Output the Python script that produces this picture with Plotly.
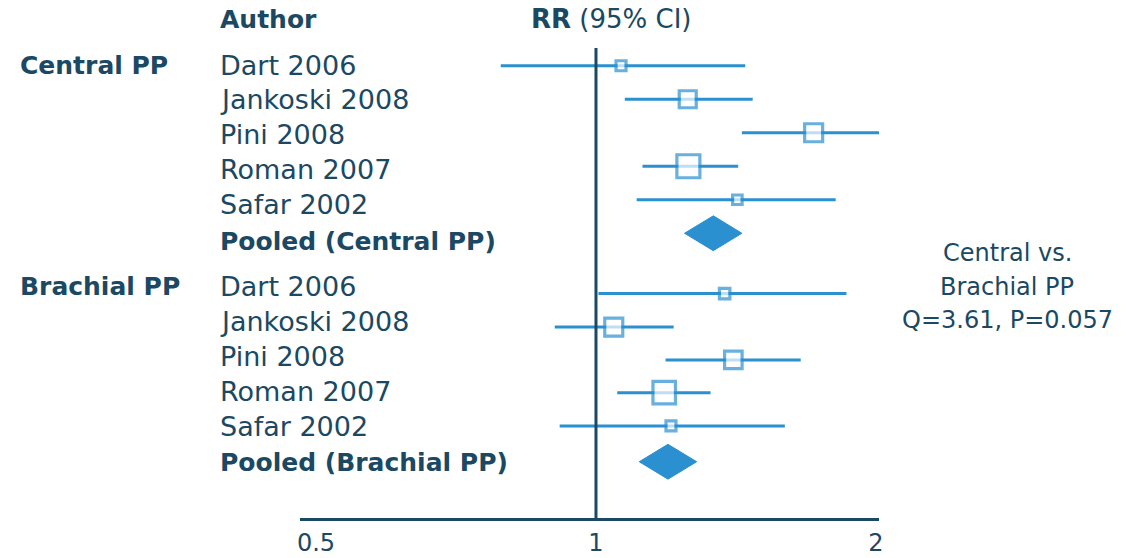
import math
import plotly.graph_objects as go

# study labels (same order in both groups)
authors = ["Dart 2006", "Jankoski 2008", "Pini 2008", "Roman 2007", "Safar 2002"]

# central pulse pressure: RR with 95% CI, and box weight
central_rr = [1.064, 1.255, 1.714, 1.257, 1.419]
central_lo = [0.790, 1.074, 1.435, 1.122, 1.106]
central_hi = [1.447, 1.474, 2.030, 1.422, 1.810]
central_wt = [10, 17, 18, 23, 9.5]
central_pooled = [1.337, 1.245, 1.435]  # rr, lo, hi

# brachial pulse pressure
brachial_rr = [1.375, 1.045, 1.405, 1.184, 1.204]
brachial_lo = [1.006, 0.903, 1.188, 1.054, 0.914]
brachial_hi = [1.859, 1.212, 1.660, 1.328, 1.596]
brachial_wt = [10.5, 18, 17.5, 22.5, 10]
brachial_pooled = [1.195, 1.113, 1.283]

x_ticks = [0.5, 1, 2]
x_ticktext = ["0.5", "1", "2"]
het_lines = ["Central vs.", "Brachial PP", "Q=3.61, P=0.057"]

W, H = 1135, 558
BLUE = "#2a90d0"
DARK = "#1b4862"
FONT = "DejaVu Sans"

# row layout (row units along the hidden y axis)
central_rows = [0, 1, 2, 3, 4]
central_pool_row = 5
brachial_rows = [6.8, 7.8, 8.78, 9.76, 10.75]
brachial_pool_row = 11.82
central_label_rows = [0.0, 1.02, 2.06, 3.1, 4.14]
central_pool_label_row = 5.24
brachial_label_rows = [6.6, 7.64, 8.68, 9.72, 10.76]
brachial_pool_label_row = 11.84
het_rows_px = [253, 287, 320]
DIAMOND_HALF = 0.52


def py(p):
    """pixel row -> paper y"""
    return 1 - p / H


fig = go.Figure()


def add_group(rr, lo, hi, wt, rows, pooled, pool_row):
    xs, ys = [], []
    for a, b, r in zip(lo, hi, rows):
        xs += [a, b, None]
        ys += [r, r, None]
    fig.add_trace(go.Scatter(
        x=xs, y=ys, mode="lines",
        line=dict(color=BLUE, width=3),
        hoverinfo="skip", showlegend=False
    ))
    fig.add_trace(go.Scatter(
        x=rr, y=rows, mode="markers",
        marker=dict(symbol="square", size=wt, color="white",
                    line=dict(color=BLUE, width=3.2)),
        showlegend=False, cliponaxis=False
    ))
    p_rr, p_lo, p_hi = pooled
    fig.add_trace(go.Scatter(
        x=[p_lo, p_rr, p_hi, p_rr, p_lo],
        y=[pool_row, pool_row - DIAMOND_HALF, pool_row,
           pool_row + DIAMOND_HALF, pool_row],
        mode="lines", fill="toself", fillcolor=BLUE,
        line=dict(color=BLUE, width=1),
        showlegend=False
    ))


add_group(central_rr, central_lo, central_hi, central_wt,
          central_rows, central_pooled, central_pool_row)
add_group(brachial_rr, brachial_lo, brachial_hi, brachial_wt,
          brachial_rows, brachial_pooled, brachial_pool_row)

annotations = []


def label(text, x_px, y, yref="y", size=27, anchor="left"):
    annotations.append(dict(
        text=text, x=x_px / W, xref="paper", y=y, yref=yref,
        xanchor=anchor, yanchor="middle", showarrow=False,
        font=dict(family=FONT, size=size, color=DARK)
    ))


for name, r in zip(authors, central_label_rows):
    label(name, 218, r)
label("<b>Pooled (Central PP)</b>", 218, central_pool_label_row, size=25)
for name, r in zip(authors, brachial_label_rows):
    label(name, 218, r)
label("<b>Pooled (Brachial PP)</b>", 218, brachial_pool_label_row, size=25)

label("<b>Central PP</b>", 18, central_label_rows[0], size=25)
label("<b>Brachial PP</b>", 18, brachial_label_rows[0], size=25)
label("<b>Author</b>", 218, py(19), yref="paper", size=25)
label("<b>RR</b> (95% CI)", 611, py(19), yref="paper", size=26, anchor="center")
for line, p in zip(het_lines, het_rows_px):
    label(line, 1007, py(p), yref="paper", size=24, anchor="center")

fig.add_shape(type="line", x0=1, x1=1, xref="x", y0=0, y1=1, yref="y domain",
              line=dict(color=DARK, width=3))

fig.update_layout(
    width=W, height=H,
    margin=dict(l=0, r=0, t=0, b=0),
    plot_bgcolor="white", paper_bgcolor="white",
    annotations=annotations,
    xaxis=dict(
        type="log",
        domain=[300 / W, 879 / W],
        range=[math.log10(0.4806), math.log10(2.015)],
        showline=True, linewidth=3, linecolor=DARK,
        showgrid=False, zeroline=False, ticks="",
        tickvals=x_ticks, ticktext=x_ticktext,
        tickfont=dict(family=FONT, size=24, color=DARK),
        ticklabelstandoff=1,
        automargin=False,
    ),
    yaxis=dict(
        domain=[1 - 518 / H, 1 - 48 / H],
        range=[13.5, -0.53], autorange=False,
        visible=False, automargin=False,
    ),
)

# drop the default page margin so the figure sits at the window's corner
fig.write_html("out.html", config={"displayModeBar": False},
               post_script="document.body.style.margin='0';")
